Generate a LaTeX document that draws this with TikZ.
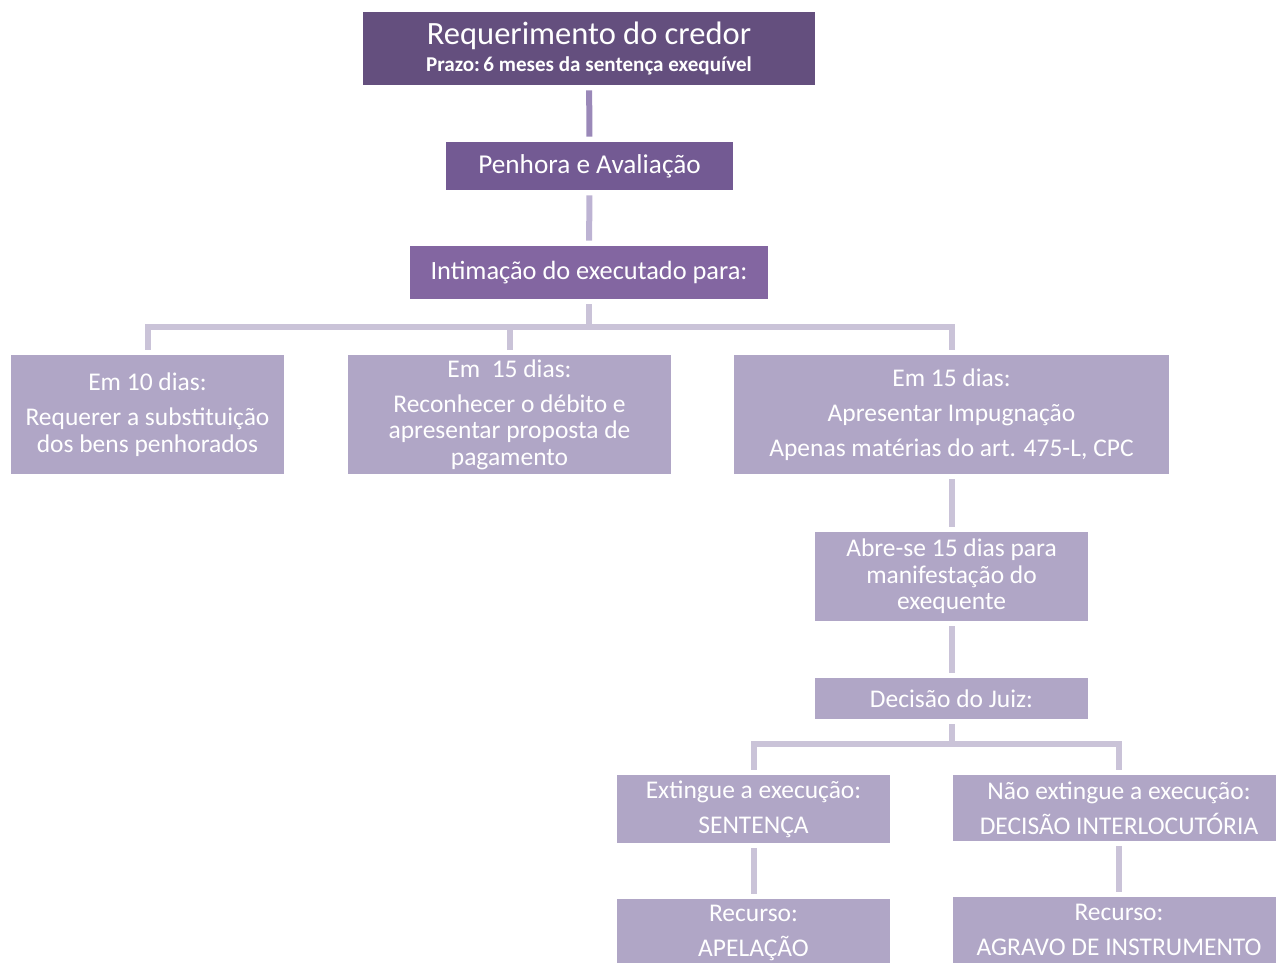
\documentclass[tikz,border=0pt]{standalone}
\usepackage{fontspec}
\setmainfont{Carlito}
\definecolor{darkviolet}{HTML}{644F7E}
\definecolor{midviolet}{HTML}{735A93}
\definecolor{softviolet}{HTML}{8366A1}
\definecolor{paleviolet}{HTML}{B0A6C6}
\definecolor{linkdark}{HTML}{9A88B8}
\definecolor{linkmid}{HTML}{BDB3D3}
\definecolor{linkpale}{HTML}{CAC3D8}
\tikzset{
	box/.style={rectangle, inner sep=2pt, align=center, text=white, font=\fontsize{14.5}{15}\selectfont},
	darkbox/.style={box, fill=darkviolet},
	midbox/.style={box, fill=midviolet, font=\fontsize{15.5}{18}\selectfont},
	softbox/.style={box, fill=softviolet, font=\fontsize{15}{18}\selectfont},
	palebox/.style={box, fill=paleviolet},
	link/.style={line width=0.12cm, linkpale, shorten <=0.1cm, shorten >=0.1cm},
}
\begin{document}
\begin{tikzpicture}

	\useasboundingbox (0,0) rectangle (25.52,19.26);
	\clip (0,0) rectangle (25.52,19.26);

	% top of the chain
	\node[darkbox, minimum width=9.04cm, minimum height=1.46cm] (req) at (11.78,18.29)
		{{\fontsize{18.5}{19}\selectfont Requerimento do credor}\\[0pt]
		 {\fontsize{12}{13}\selectfont\bfseries Prazo:\,6 meses da sentença exequível}};
	\node[midbox, minimum width=5.74cm, minimum height=0.96cm] (pen) at (11.79,15.94) {Penhora e Avaliação};
	\node[softbox, minimum width=7.16cm, minimum height=1.06cm] (int) at (11.78,13.81) {Intimação do executado para:};

	% three options
	\node[palebox, minimum width=5.46cm, minimum height=2.38cm] (d10) at (2.95,10.97)
		{Em 10 dias:\\[5pt] Requerer a substituição\\ dos bens penhorados};
	\node[palebox, minimum width=6.46cm, minimum height=2.38cm] (d15a) at (10.19,10.97)
		{Em \ 15 dias:\\[5pt] Reconhecer o débito e\\ apresentar proposta de\\ pagamento};
	\node[palebox, minimum width=8.70cm, minimum height=2.38cm] (d15b) at (19.03,10.97)
		{Em 15 dias:\\[5pt] Apresentar Impugnação\\[5pt] Apenas matérias do art. 475-L, CPC};

	\node[palebox, minimum width=5.46cm, minimum height=1.78cm] (abre) at (19.03,7.73)
		{Abre-se 15 dias para\\ manifestação do\\ exequente};
	\node[palebox, minimum width=5.46cm, minimum height=0.82cm] (juiz) at (19.03,5.29) {Decisão do Juiz:};

	% two outcomes
	\node[palebox, minimum width=5.46cm, minimum height=1.36cm] (ext) at (15.07,3.08)
		{Extingue a execução:\\[5pt] SENTENÇA};
	\node[palebox, minimum width=6.64cm, minimum height=1.32cm] (nao) at (22.38,3.10)
		{Não extingue a execução:\\[5pt] DECISÃO INTERLOCUTÓRIA};
	\node[palebox, minimum width=5.46cm, minimum height=1.36cm] (apel) at (15.07,0.6)
		{Recurso:\\[5pt] APELAÇÃO};
	\node[palebox, minimum width=6.64cm, minimum height=1.32cm] (agr) at (22.38,0.66)
		{Recurso:\\[5pt] AGRAVO DE INSTRUMENTO};

	\coordinate (fork1) at (11.78,12.72);
	\coordinate (fork2) at (19.03,4.37);

	\draw[link, linkdark] (req) -- (pen);
	\draw[link, linkmid] (pen) -- (int);
	\draw[link, shorten >=0pt] (int) -- (fork1);
	\draw[link, shorten <=0pt] (fork1) -| (d10);
	\draw[link, shorten <=0pt] (fork1) -| (d15a);
	\draw[link, shorten <=0pt] (fork1) -| (d15b);
	\draw[link] (d15b) -- (abre);
	\draw[link] (abre) -- (juiz);
	\draw[link, shorten >=0pt] (juiz) -- (fork2);
	\draw[link, shorten <=0pt] (fork2) -| (ext);
	\draw[link, shorten <=0pt] (fork2) -| (nao);
	\draw[link] (ext) -- (apel);
	\draw[link] (nao) -- (agr);

\end{tikzpicture}
\end{document}
